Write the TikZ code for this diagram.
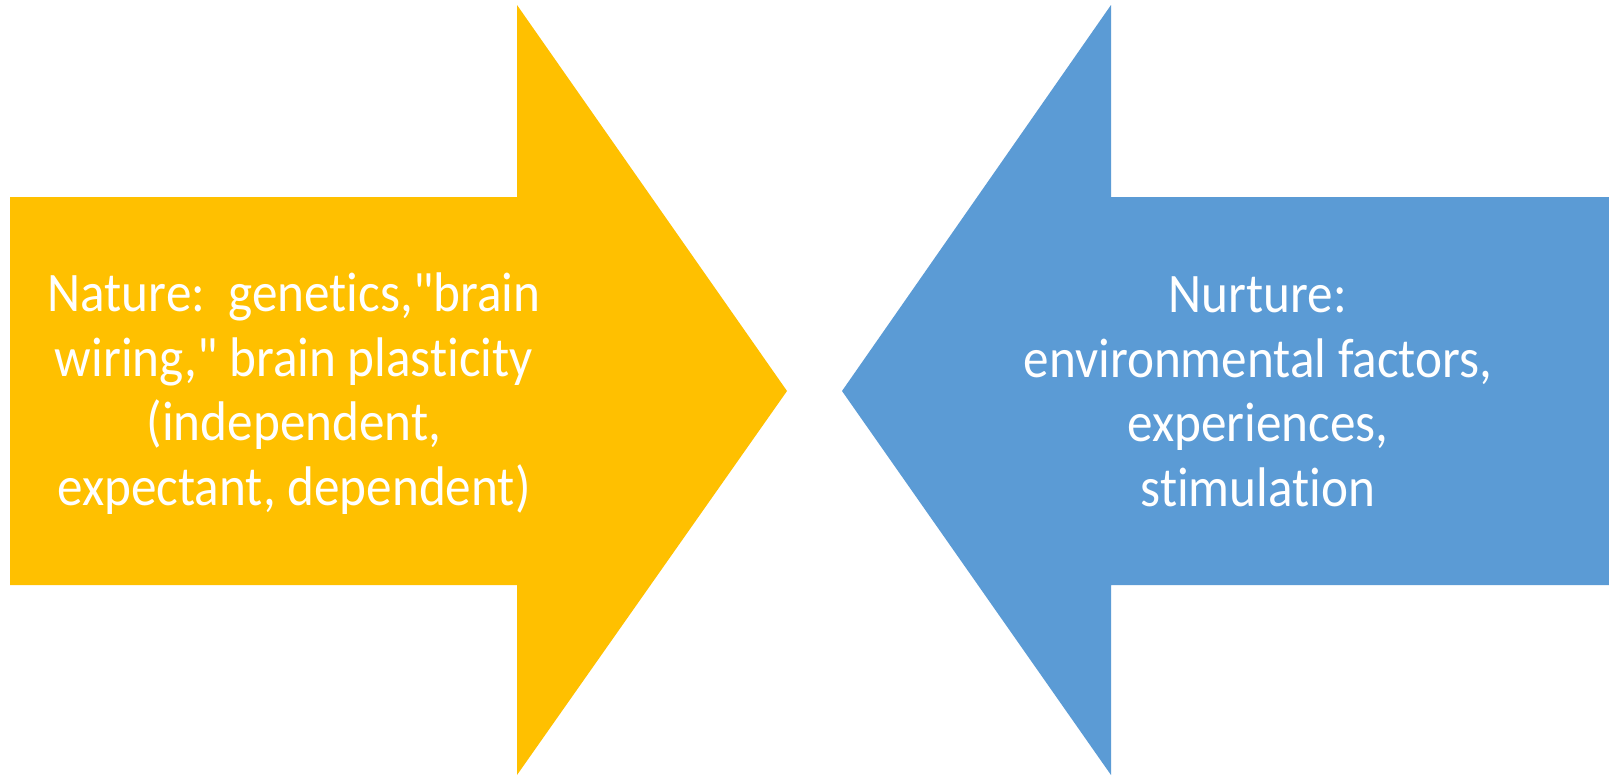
\documentclass[tikz,border=0pt]{standalone}
\usepackage{fontspec}
\setmainfont{Carlito}[Ligatures={NoCommon,TeXOff}]
\definecolor{natyellow}{HTML}{FFC000}
\definecolor{nurblue}{HTML}{5B9BD5}
\newcommand{\arrowlines}[1]{\scalebox{1}[1.09]{\fontsize{38.4pt}{44.7pt}\selectfont\begin{tabular}{@{}c@{}}#1\end{tabular}}}
\begin{document}
\begin{tikzpicture}[x=0.75pt,y=-0.75pt,
  arrowtext/.style={text=white,inner sep=0pt}]
\useasboundingbox (0,0) rectangle (1609,775);
\fill[white] (0,0) rectangle (1609,775);
% Nature arrow (pointing right)
\fill[natyellow] (10,197) -- (517,197) -- (517,5) -- (787,391) -- (517,775) -- (517,585) -- (10,585) -- cycle;
% Nurture arrow (pointing left)
\fill[nurblue] (1609,197) -- (1111,197) -- (1111,5) -- (842,391) -- (1111,775) -- (1111,585) -- (1609,585) -- cycle;
\node[arrowtext] (nature) at (294,395.5) {\arrowlines{Nature:\ \ genetics,"brain\\wiring," brain plasticity\\(independent,\\expectant, dependent)}};
\node[arrowtext] (nurture) at (1258,396.5) {\arrowlines{Nurture:\\environmental factors,\\experiences,\\stimulation}};
\end{tikzpicture}
\end{document}
